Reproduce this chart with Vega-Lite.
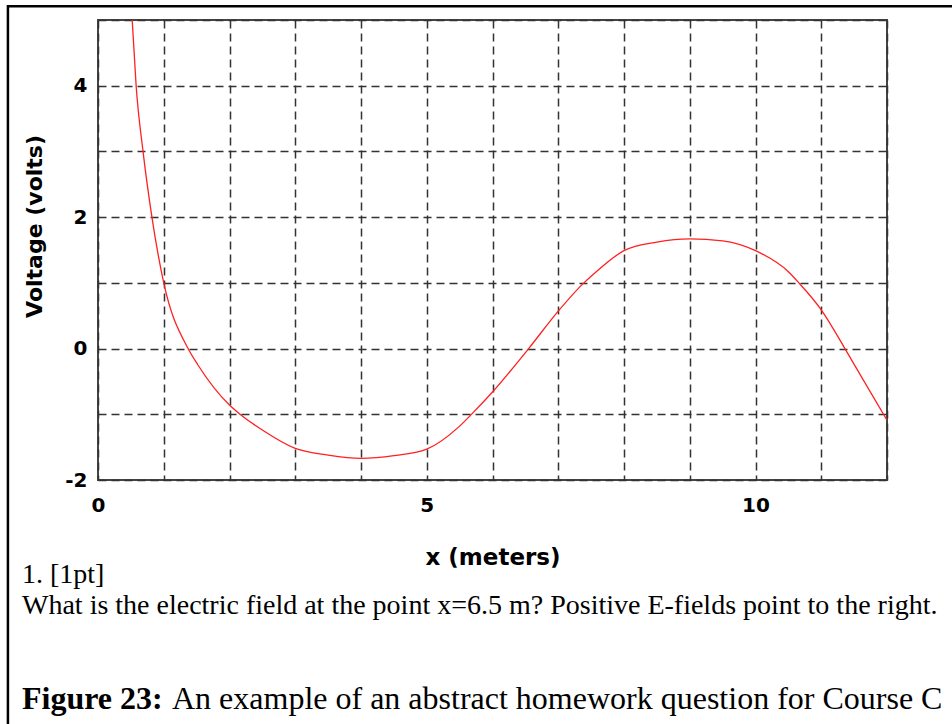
{
  "$schema": "https://vega.github.io/schema/vega-lite/v6.json",
  "width": 789,
  "height": 460,
  "autosize": {"type": "none"},
  "padding": {"left": 98, "top": 20, "right": 65, "bottom": 244},
  "background": "white",
  "data": {
    "values": [
      {"x": 0.52, "v": 5.0},
      {"x": 0.58, "v": 4.0},
      {"x": 0.685, "v": 3.0},
      {"x": 0.82, "v": 2.0},
      {"x": 1.0, "v": 1.0},
      {"x": 1.37, "v": 0.0},
      {"x": 1.52, "v": -0.25},
      {"x": 2.0, "v": -0.86},
      {"x": 2.16, "v": -1.0},
      {"x": 2.5, "v": -1.24},
      {"x": 3.0, "v": -1.52},
      {"x": 3.5, "v": -1.62},
      {"x": 4.0, "v": -1.67},
      {"x": 4.5, "v": -1.63},
      {"x": 5.0, "v": -1.53},
      {"x": 5.5, "v": -1.18},
      {"x": 5.69, "v": -0.99},
      {"x": 6.0, "v": -0.66},
      {"x": 6.55, "v": 0.0},
      {"x": 7.0, "v": 0.57},
      {"x": 7.39, "v": 1.0},
      {"x": 7.5, "v": 1.1},
      {"x": 8.0, "v": 1.49},
      {"x": 8.5, "v": 1.62},
      {"x": 9.0, "v": 1.67},
      {"x": 9.5, "v": 1.64},
      {"x": 10.0, "v": 1.49},
      {"x": 10.5, "v": 1.17},
      {"x": 10.66, "v": 1.0},
      {"x": 11.0, "v": 0.59},
      {"x": 11.36, "v": 0.0},
      {"x": 11.5, "v": -0.24},
      {"x": 12.0, "v": -1.09}
    ]
  },
  "layer": [
    {
      "mark": {"type": "line", "color": "#ff2020", "strokeWidth": 1.3, "interpolate": "monotone", "clip": true},
      "encoding": {
        "x": {
          "field": "x", "type": "quantitative",
          "scale": {"domain": [0, 12], "nice": false, "zero": false},
          "axis": {
            "title": "x (meters)",
            "values": [0, 1, 2, 3, 4, 5, 6, 7, 8, 9, 10, 11, 12],
            "labelExpr": "datum.value % 5 == 0 ? '' + datum.value : ''",
            "labelOverlap": false,
            "labelFlush": false,
            "ticks": false,
            "domain": false,
            "grid": true,
            "gridDash": [8, 5],
            "gridColor": "#333333",
            "gridWidth": 1.5,
            "labelFont": "DejaVu Sans",
            "labelFontWeight": "bold",
            "labelFontSize": 20,
            "labelColor": "black",
            "labelPadding": 15,
            "titleFont": "DejaVu Sans",
            "titleFontWeight": "bold",
            "titleFontSize": 23,
            "titleColor": "black",
            "titlePadding": 31
          }
        },
        "y": {
          "field": "v", "type": "quantitative",
          "scale": {"domain": [-2, 5], "nice": false, "zero": false},
          "axis": {
            "title": "Voltage (volts)",
            "values": [-2, -1, 0, 1, 2, 3, 4, 5],
            "labelExpr": "datum.value % 2 == 0 ? '' + datum.value : ''",
            "labelOverlap": false,
            "labelFlush": false,
            "ticks": false,
            "domain": false,
            "grid": true,
            "gridDash": [8, 5],
            "gridColor": "#333333",
            "gridWidth": 1.5,
            "labelFont": "DejaVu Sans",
            "labelFontWeight": "bold",
            "labelFontSize": 20,
            "labelColor": "black",
            "labelPadding": 11,
            "titleFont": "DejaVu Sans",
            "titleFontWeight": "bold",
            "titleFontSize": 22,
            "titleColor": "black",
            "titlePadding": 18,
            "titleY": 206
          }
        }
      }
    },
    {
      "data": {"values": [{"part": "frame"}]},
      "mark": {"type": "rect", "filled": false, "stroke": "black", "strokeWidth": 2.5, "clip": false},
      "encoding": {
        "x": {"datum": -1.37, "type": "quantitative"},
        "x2": {"datum": 13.3},
        "y": {"datum": 5.21, "type": "quantitative"},
        "y2": {"datum": -6.2}
      }
    },
    {
      "data": {"values": [{"t": "1. [1pt]"}]},
      "mark": {"type": "text", "font": "Liberation Serif", "fontWeight": "normal", "fontSize": 28, "align": "left", "baseline": "alphabetic", "color": "black", "clip": false},
      "encoding": {
        "x": {"datum": -1.156, "type": "quantitative"},
        "y": {"datum": -3.567, "type": "quantitative"},
        "text": {"field": "t"}
      }
    },
    {
      "data": {"values": [{"t": "What is the electric field at the point x=6.5 m? Positive E-fields point to the right."}]},
      "mark": {"type": "text", "font": "Liberation Serif", "fontWeight": "normal", "fontSize": 28, "align": "left", "baseline": "alphabetic", "color": "black", "clip": false},
      "encoding": {
        "x": {"datum": -1.156, "type": "quantitative"},
        "y": {"datum": -4.039, "type": "quantitative"},
        "text": {"field": "t"}
      }
    },
    {
      "data": {"values": [{"t": "Figure 23:"}]},
      "mark": {"type": "text", "font": "Liberation Serif", "fontWeight": "bold", "fontSize": 32, "align": "left", "baseline": "alphabetic", "color": "black", "clip": false},
      "encoding": {
        "x": {"datum": -1.156, "type": "quantitative"},
        "y": {"datum": -5.485, "type": "quantitative"},
        "text": {"field": "t"}
      }
    },
    {
      "data": {"values": [{"t": "An example of an abstract homework question for Course C"}]},
      "mark": {"type": "text", "font": "Liberation Serif", "fontWeight": "normal", "fontSize": 32, "align": "left", "baseline": "alphabetic", "color": "black", "clip": false},
      "encoding": {
        "x": {"datum": 1.125, "type": "quantitative"},
        "y": {"datum": -5.485, "type": "quantitative"},
        "text": {"field": "t"}
      }
    }
  ],
  "config": {
    "view": {"stroke": "#444444", "strokeWidth": 2}
  }
}
